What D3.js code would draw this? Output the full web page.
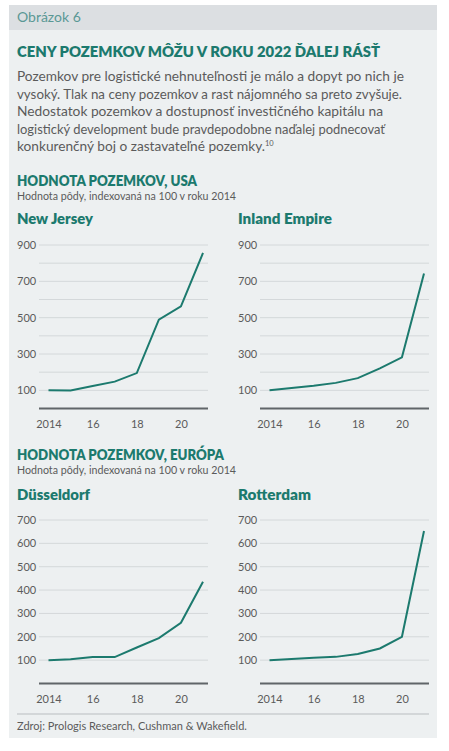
<!DOCTYPE html>
<html><head><meta charset="utf-8">
<script src="https://cdn.jsdelivr.net/npm/d3@7"></script>
<style>body{margin:0;background:#fff}svg{display:block}text{font-family:Lato,"Open Sans",sans-serif}</style>
</head><body><svg id="c" width="449" height="751"></svg>
<script>
const years = [2014, 2015, 2016, 2017, 2018, 2019, 2020, 2021];
const xTickValues = [2014, 2016, 2018, 2020];
const xTickLabels = ["2014", "16", "18", "20"];
const newJersey = [100, 99, 124, 148, 195, 489, 562, 856];
const inlandEmpire = [100, 113, 125, 141, 167, 221, 282, 743];
const dusseldorf = [100, 104, 113, 113, 154, 194, 260, 436];
const rotterdam = [100, 105, 110, 114, 126, 150, 200, 653];
const usTicks = [100, 300, 500, 700, 900];
const usGrid = [100, 200, 300, 400, 500, 600, 700, 800, 900];
const euTicks = [100, 200, 300, 400, 500, 600, 700];
const paragraph = [
  "Pozemkov pre logistické nehnuteľnosti je málo a dopyt po nich je",
  "vysoký. Tlak na ceny pozemkov a rast nájomného sa preto zvyšuje.",
  "Nedostatok pozemkov a dostupnosť investičného kapitálu na",
  "logistický development bude pravdepodobne naďalej podnecovať",
  "konkurenčný boj o zastavateľné pozemky."
];

const teal = "#1c7a6e", grey = "#5b5b5b";
const svg = d3.select("#c");
svg.append("rect").attr("x", 9).attr("y", 5).attr("width", 428).attr("height", 733).attr("fill", "#edf0f1");
svg.append("rect").attr("x", 9).attr("y", 5).attr("width", 428).attr("height", 25).attr("fill", "#dcdfe2");
svg.append("text").attr("x", 17).attr("y", 22).attr("font-size", 14).attr("fill", "#5a9895").text("Obrázok 6");
svg.append("text").attr("x", 17).attr("y", 57).attr("font-size", 15.5).attr("font-weight", 800).attr("fill", teal)
  .attr("textLength", 363).attr("lengthAdjust", "spacingAndGlyphs")
  .text("CENY POZEMKOV MÔŽU V ROKU 2022 ĎALEJ RÁSŤ");
const pw = [387, 385, 366, 368, 248];
paragraph.forEach((l, i) => {
  const t = svg.append("text").attr("x", 17).attr("y", 81 + i * 17.6).attr("font-size", 13.5).attr("fill", grey);
  t.append("tspan").attr("textLength", pw[i]).attr("lengthAdjust", "spacingAndGlyphs").text(l);
  if (i === paragraph.length - 1) t.append("tspan").attr("font-size", 7.5).attr("dy", -5).text("10");
});

function section(title, y, w) {
  svg.append("text").attr("x", 17).attr("y", y).attr("font-size", 14.5).attr("font-weight", 800).attr("fill", teal)
    .attr("textLength", w).attr("lengthAdjust", "spacingAndGlyphs").text(title);
  svg.append("text").attr("x", 17).attr("y", y + 14).attr("font-size", 10.5).attr("fill", grey)
    .attr("textLength", 219).attr("lengthAdjust", "spacingAndGlyphs").text("Hodnota pôdy, indexovaná na 100 v roku 2014");
}
section("HODNOTA POZEMKOV, USA", 186, 180);
section("HODNOTA POZEMKOV, EURÓPA", 460, 207);

function chart(name, values, x0, titleY, nameW, y0, yTop, max, grid, ticks) {
  svg.append("text").attr("x", x0).attr("y", titleY).attr("font-size", 14.5).attr("font-weight", 800).attr("fill", teal)
    .attr("textLength", nameW).attr("lengthAdjust", "spacingAndGlyphs").text(name);
  const gx0 = x0 + 22, gx1 = gx0 + 169;
  const x = d3.scaleLinear().domain([2014, 2021]).range([gx0 + 9.5, gx0 + 164]);
  const y = d3.scaleLinear().domain([0, max]).range([y0, yTop]);
  const g = svg.append("g");
  g.selectAll(".gl").data(grid).join("line")
    .attr("x1", gx0).attr("x2", gx1).attr("y1", d => y(d)).attr("y2", d => y(d))
    .attr("stroke", "#d4d8da").attr("stroke-width", 1);
  g.selectAll(".yl").data(ticks).join("text")
    .attr("x", x0).attr("y", d => y(d) + 4).attr("font-size", 11).attr("fill", grey).text(d => d);
  const ax = g.append("g").attr("transform", `translate(0,${y0})`)
    .call(d3.axisBottom(x).tickValues(xTickValues).tickSize(0).tickPadding(12).tickFormat((d, i) => xTickLabels[i]));
  ax.select(".domain").remove();
  ax.selectAll("text").attr("font-size", 11).attr("fill", grey).style("font-family", "Lato,sans-serif");
  g.append("line").attr("x1", gx0).attr("x2", gx1).attr("y1", y0).attr("y2", y0).attr("stroke", "#606569").attr("stroke-width", 1.8);
  g.append("path").datum(values)
    .attr("d", d3.line().x((d, i) => x(years[i])).y(d => y(d)))
    .attr("fill", "none").attr("stroke", teal).attr("stroke-width", 2);
}
chart("New Jersey", newJersey, 17, 224, 76, 408.5, 245, 900, usGrid, usTicks);
chart("Inland Empire", inlandEmpire, 238, 224, 94, 408.5, 245, 900, usGrid, usTicks);
chart("Düsseldorf", dusseldorf, 17, 500, 73, 683.5, 520, 700, euTicks, euTicks);
chart("Rotterdam", rotterdam, 238, 500, 73, 683.5, 520, 700, euTicks, euTicks);

svg.append("line").attr("x1", 17).attr("x2", 429).attr("y1", 714).attr("y2", 714).attr("stroke", "#b9bdc0").attr("stroke-width", 1);
svg.append("text").attr("x", 17).attr("y", 730).attr("font-size", 11).attr("fill", grey).text("Zdroj: Prologis Research, Cushman & Wakefield.");
</script></body></html>
